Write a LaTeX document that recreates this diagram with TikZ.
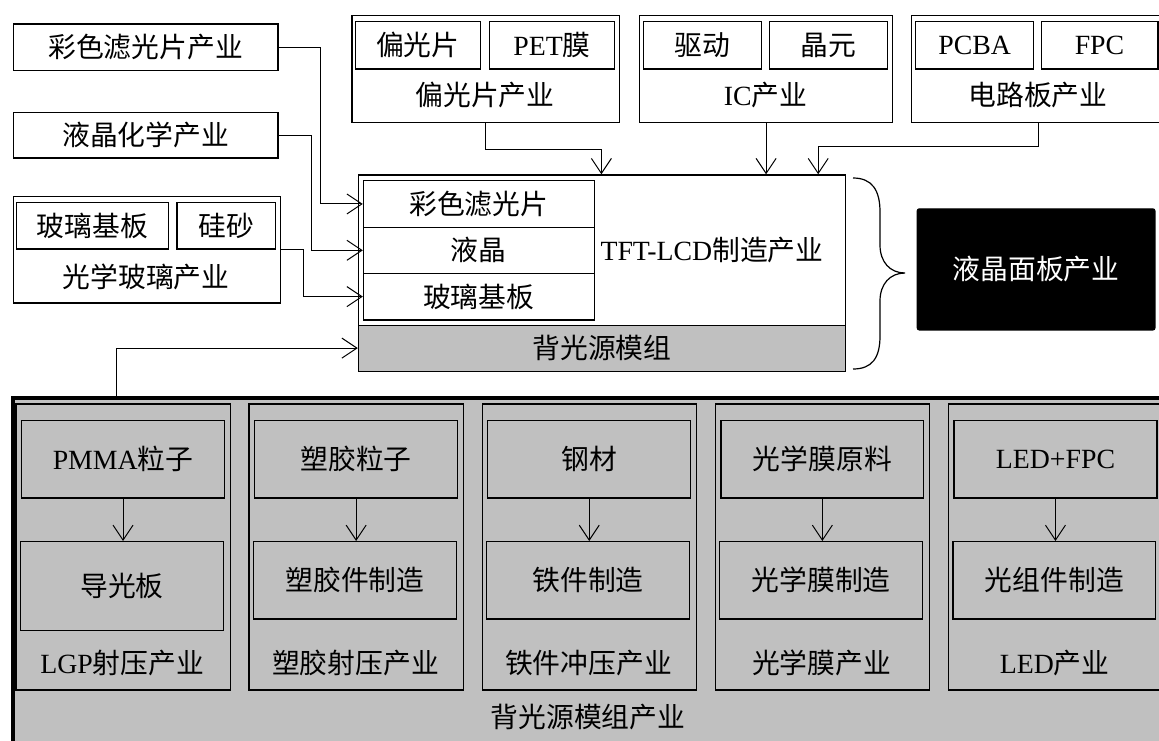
\documentclass[tikz,border=0pt]{standalone}
\usepackage{fontspec}
\setmainfont{Liberation Serif}
\newfontfamily\cjk{Noto Sans CJK SC}
\usetikzlibrary{arrows.meta,calc}
\newcommand{\zh}[1]{{\cjk #1}}
\definecolor{bgray}{RGB}{192,192,192}
\newcommand{\mkbox}[7][]{\node[box,#1,minimum width={(#5)-(#3)},minimum height={(#6)-(#4)}] (#2) at (#3,#4) {#7};}
\tikzset{
  box/.style={draw, line width=1.2pt, inner sep=0pt, anchor=north west},
  lbl/.style={inner sep=0pt},
  conn/.style={line width=1pt, -{Straight Barb[length=15pt,width=20pt]}},
  every node/.style={font=\fontsize{27.8}{32}\selectfont},
}
\begin{document}
\begin{tikzpicture}[x=1pt,y=-1pt]
\clip (0,0) rectangle (1159,740);
% ---------- top left sources
\mkbox{cf}{12.6}{23.3}{277.4}{70}{\zh{彩色滤光片产业}}
\mkbox{lc}{12.6}{111.7}{277.4}{157.3}{\zh{液晶化学产业}}
\mkbox{og}{12.6}{195.7}{279.7}{302.3}{}
\mkbox{ogA}{16}{201.7}{167.6}{248.3}{\zh{玻璃基板}}
\mkbox{ogB}{176.4}{201.7}{274.8}{248.3}{\zh{硅砂}}
\node[lbl] (ogL) at (146,276.7) {\zh{光学玻璃产业}};
% ---------- top sources
\mkbox{pol}{351.3}{15}{618.8}{121.7}{}
\mkbox{polA}{355}{21}{479.5}{68.3}{\zh{偏光片}}
\mkbox{polB}{489}{21}{614}{68.3}{PET\zh{膜}}
\node[lbl] (polL) at (485,95) {\zh{偏光片产业}};
\mkbox{ic}{639}{15}{892}{121.7}{}
\mkbox{icA}{642.8}{21}{761}{68.3}{\zh{驱动}}
\mkbox{icB}{769}{21}{887.2}{68.3}{\zh{晶元}}
\node[lbl] (icL) at (765.5,95) {IC\zh{产业}};
\mkbox{pcb}{910.5}{15}{1165}{121.7}{}
\mkbox{pcbA}{915}{21}{1033}{68.3}{PCBA}
\mkbox{pcbB}{1040.5}{21}{1157.3}{68.3}{FPC}
\node[lbl] (pcbL) at (1038,95) {\zh{电路板产业}};
% ---------- TFT-LCD block
\mkbox{tft}{357.8}{174.3}{845.1}{370.5}{}
\mkbox[fill=bgray]{bl}{357.8}{324.5}{845.1}{370.5}{\zh{背光源模组}}
\mkbox{in1}{362.8}{180}{593.5}{226.7}{\zh{彩色滤光片}}
\mkbox{in2}{362.8}{226.7}{593.5}{272.7}{\zh{液晶}}
\mkbox{in3}{362.8}{272.7}{593.5}{319.3}{\zh{玻璃基板}}
\node[lbl] (tftL) at (712,250) {TFT-LCD\zh{制造产业}};
\coordinate (tA) at (601.4,174.3);
\coordinate (tC) at (818.2,174.3);
% ---------- brace and panel industry
\draw[line width=1.2pt] (853,178) .. controls (872,178) and (880,190) .. (880,212) -- (880,245)
  .. controls (880,262) and (890,273) .. (905,273)
  .. controls (890,273) and (880,284) .. (880,301) -- (880,336)
  .. controls (880,358) and (872,369) .. (853,369);
\mkbox[fill=black,rounded corners=2pt,text=white]{panel}{916.7}{208.3}{1154.3}{329.3}{\zh{液晶面板产业}}
% ---------- backlight industry
\mkbox[fill=bgray,line width=3.5pt]{bb}{11}{396}{1166}{770}{}
\node[lbl] (bbL) at (588,717) {\zh{背光源模组产业}};
\foreach \k/\up/\lo/\lab/\lh in {0/PMMA\zh{粒子}/\zh{导光板}/LGP\zh{射压产业}/630,
  1/\zh{塑胶粒子}/\zh{塑胶件制造}/\zh{塑胶射压产业}/618.3,
  2/\zh{钢材}/\zh{铁件制造}/\zh{铁件冲压产业}/618.3,
  3/\zh{光学膜原料}/\zh{光学膜制造}/\zh{光学膜产业}/618.3,
  4/LED+FPC/\zh{光组件制造}/LED\zh{产业}/618.3}{
  \pgfmathsetmacro{\s}{15.3+233.1*\k}
  \mkbox{sub\k}{\s}{403.3}{\s+214.3}{689.3}{}
  \mkbox{up\k}{\s+5.7}{420}{\s+208.6}{497.3}{\up}
  \mkbox{lo\k}{\s+4.6}{541}{\s+207.4}{\lh}{\lo}
  \node[lbl] (lab\k) at (\s+107,663.3) {\lab};
  \draw[conn] (up\k.south) -- (up\k.south |- lo\k.north);
}
% ---------- connectors
\draw[conn] (cf.east) -- ++(42.2,0) |- (in1.west);
\draw[conn] (lc.east) -- ++(32.6,0) |- (in2.west);
\draw[conn] (og.east |- ogB.south) -- ++(22.6,0) |- (in3.west);
\draw[conn] (pol.south) -- ++(0,26.6) -| (tA);
\draw[conn] (ic.south) -- (ic.south |- tft.north);
\draw[conn] (pcb.south) -- ++(0,24) -| (tC);
\coordinate (bsrc) at (116.7,396);
\draw[conn] (bsrc) |- (bl.west);
\end{tikzpicture}
\end{document}
